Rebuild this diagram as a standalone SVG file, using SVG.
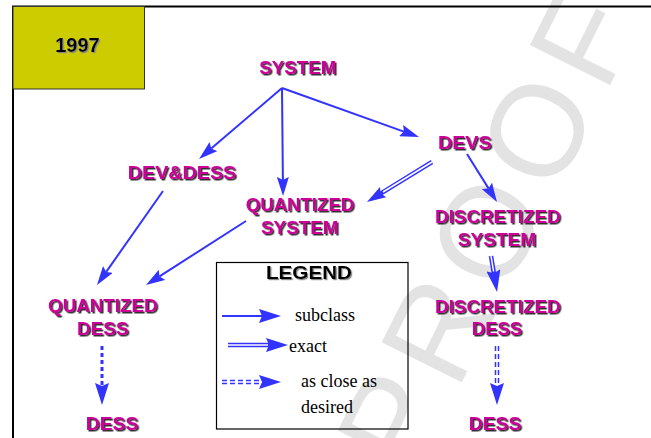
<svg xmlns="http://www.w3.org/2000/svg" width="651" height="438" viewBox="0 0 651 438">
  <style>
    .lbl { font-family: "Liberation Sans", Arial, sans-serif; font-weight: bold; font-size: 18.5px; fill: #cc0099; text-anchor: middle; filter: url(#sh); }
    .blk { font-family: "Liberation Sans", Arial, sans-serif; font-weight: bold; fill: #000; text-anchor: middle; filter: url(#sh2); }
    .ser { font-family: "Liberation Serif", "Times New Roman", serif; font-size: 18px; fill: #000; }
    .sub { fill: none; stroke: #3333ff; stroke-width: 2; }
    .ex { fill: none; stroke: #3333ff; stroke-width: 4.5; }
    .exw { fill: none; stroke: #ffffff; stroke-width: 1.5; }
    .dot { fill: none; stroke: #3333ff; stroke-width: 3; stroke-dasharray: 4 3; }
    .dd { fill: none; stroke: #3333ff; stroke-width: 4.5; stroke-dasharray: 5 3; }
  </style>
  <defs>
    <filter id="sh" x="-10%" y="-30%" width="130%" height="170%">
      <feDropShadow dx="1.5" dy="1.5" stdDeviation="0.3" flood-color="#333333" flood-opacity="1"/>
    </filter>
    <filter id="sh2" x="-10%" y="-30%" width="130%" height="170%">
      <feDropShadow dx="1.2" dy="1.2" stdDeviation="0.3" flood-color="#888888" flood-opacity="1"/>
    </filter>
    <marker id="ah" viewBox="0 0 19 12" refX="3" refY="6" markerWidth="19" markerHeight="12" markerUnits="userSpaceOnUse" orient="auto">
      <path d="M0,0 L19,6 L0,12 L3,6 z" fill="#3333ff"/>
    </marker>
    <marker id="ahb" viewBox="0 0 22 14" refX="3" refY="7" markerWidth="22" markerHeight="14" markerUnits="userSpaceOnUse" orient="auto">
      <path d="M0,0 L22,7 L0,14 L3,7 z" fill="#3333ff"/>
    </marker>
  </defs>

  <rect width="651" height="438" fill="#ffffff"/>

  <text id="watermark" transform="translate(413,480) rotate(-63.5)" font-family="Liberation Sans, Arial, sans-serif" font-size="130" letter-spacing="12" fill="#e3e3e3">PROOF</text>

  <rect x="13" y="6.5" width="700" height="500" fill="none" stroke="#000" stroke-width="2"/>

  <g id="year">
    <rect x="13" y="6.5" width="131.5" height="82.5" fill="#cccc00" stroke="#333" stroke-width="1"/>
    <text class="blk" x="77.5" y="52" font-size="20">1997</text>
  </g>

  <g id="connectors">
    <path class="sub" d="M282,88 L211.2,148.6" marker-end="url(#ah)"/>
    <path class="sub" d="M282,88 L282.9,180" marker-end="url(#ah)"/>
    <path class="sub" d="M282,88 L403.9,131.6" marker-end="url(#ah)"/>
    <path class="sub" d="M467,154 L488.5,188.4" marker-end="url(#ah)"/>
    <path class="ex" d="M432,162 L380.6,193.6" marker-end="url(#ah)"/>
    <path class="exw" d="M432,162 L383,192"/>
    <path class="sub" d="M163,191 L106.2,271.9" marker-end="url(#ah)"/>
    <path class="sub" d="M246,221 L159.5,276.4" marker-end="url(#ah)"/>
    <path class="dot" d="M102,346 L102,386" marker-end="url(#ahb)"/>
    <path class="ex" d="M491,256 L493.9,273.3" marker-end="url(#ahb)"/>
    <path class="exw" d="M491,256 L493.6,271.5"/>
    <path class="dd" d="M497,346 L497,386" marker-end="url(#ahb)"/>
    <path class="exw" d="M497,345 L497,385"/>
  </g>

  <g id="system"><text class="lbl" x="297.8" y="73.5" textLength="77" lengthAdjust="spacingAndGlyphs">SYSTEM</text></g>
  <g id="devdess"><text class="lbl" x="182" y="178.5" textLength="108.5" lengthAdjust="spacingAndGlyphs">DEV&amp;DESS</text></g>
  <g id="devs"><text class="lbl" x="464.8" y="148.5" textLength="53.5" lengthAdjust="spacingAndGlyphs">DEVS</text></g>
  <g id="quantized-system">
    <text class="lbl" x="300" y="210.5" textLength="108.5" lengthAdjust="spacingAndGlyphs">QUANTIZED</text>
    <text class="lbl" x="299.8" y="233.5" textLength="77.5" lengthAdjust="spacingAndGlyphs">SYSTEM</text>
  </g>
  <g id="discretized-system">
    <text class="lbl" x="497.8" y="222.5" textLength="125.5" lengthAdjust="spacingAndGlyphs">DISCRETIZED</text>
    <text class="lbl" x="497" y="245.5" textLength="78.5" lengthAdjust="spacingAndGlyphs">SYSTEM</text>
  </g>
  <g id="quantized-dess">
    <text class="lbl" x="102.8" y="311.5" textLength="109.5" lengthAdjust="spacingAndGlyphs">QUANTIZED</text>
    <text class="lbl" x="102.8" y="334.5" textLength="51.5" lengthAdjust="spacingAndGlyphs">DESS</text>
  </g>
  <g id="dess-left"><text class="lbl" x="112" y="429.5" textLength="52.5" lengthAdjust="spacingAndGlyphs">DESS</text></g>
  <g id="discretized-dess">
    <text class="lbl" x="497.8" y="312.5" textLength="125.5" lengthAdjust="spacingAndGlyphs">DISCRETIZED</text>
    <text class="lbl" x="497" y="334.5" textLength="50.5" lengthAdjust="spacingAndGlyphs">DESS</text>
  </g>
  <g id="dess-right"><text class="lbl" x="495" y="429.5" textLength="52.5" lengthAdjust="spacingAndGlyphs">DESS</text></g>

  <g id="legend">
    <rect x="216.5" y="262.5" width="191.5" height="166.5" fill="none" stroke="#000" stroke-width="1.2"/>
    <text class="blk" x="309" y="279" font-size="18.5" textLength="86" lengthAdjust="spacingAndGlyphs">LEGEND</text>
    <path class="sub" d="M222,316 L262,316" marker-end="url(#ahb)"/>
    <text class="ser" x="295" y="321">subclass</text>
    <path class="ex" d="M228,345 L269,345" marker-end="url(#ahb)"/>
    <path class="exw" d="M228,345 L268,345"/>
    <text class="ser" x="289" y="352">exact</text>
    <path class="ex" d="M222,382 L262,382" stroke-dasharray="5 3" marker-end="url(#ahb)"/>
    <path class="exw" d="M221,382 L262,382"/>
    <text class="ser" x="301" y="387">as close as</text>
    <text class="ser" x="301" y="413">desired</text>
  </g>
</svg>
